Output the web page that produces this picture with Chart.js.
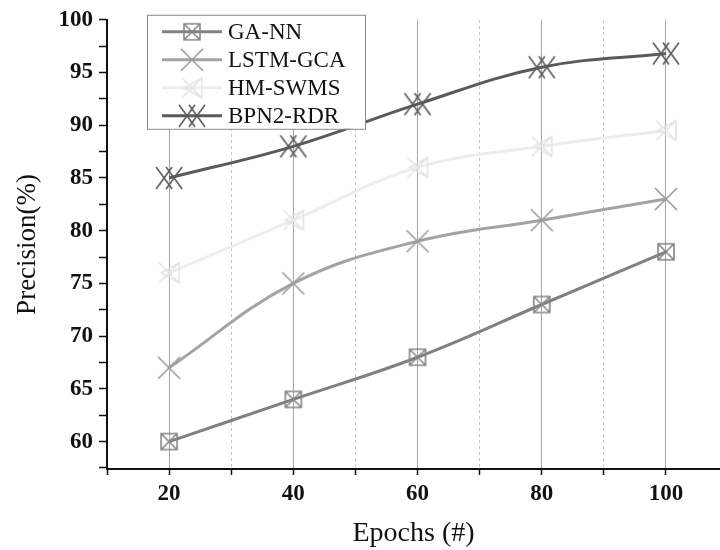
<!DOCTYPE html>
<html>
<head>
<meta charset="utf-8">
<script src="https://cdn.jsdelivr.net/npm/chart.js@4/dist/chart.umd.min.js"></script>
<style>
html,body{margin:0;padding:0;background:#fff;overflow:hidden;}
#c{display:block;}
</style>
</head>
<body>
<canvas id="c" width="720" height="550"></canvas>
<script>
// ---- data ----
const epochs = [20, 40, 60, 80, 100];
const gaNN = [60, 64, 68, 73, 78];
const lstmGCA = [67, 75, 79, 81, 83];
const hmSWMS = [76, 81, 86, 88, 89.5];
const bpn2RDR = [85, 88, 92, 95.5, 96.8];
const seriesNames = ['GA-NN', 'LSTM-GCA', 'HM-SWMS', 'BPN2-RDR'];
const xLabelTicks = [20, 40, 60, 80, 100];
const yLabelTicks = [60, 65, 70, 75, 80, 85, 90, 95, 100];

const SERIF = '"Liberation Serif", "Times New Roman", serif';

function makeMarker(kind, color) {
  const c = document.createElement('canvas');
  c.width = 30; c.height = 30;
  const g = c.getContext('2d');
  g.strokeStyle = color;
  g.lineWidth = 1.6;
  g.beginPath();
  if (kind === 'boxX') {
    g.rect(7, 7, 16, 16);
    g.moveTo(7, 7); g.lineTo(23, 23);
    g.moveTo(23, 7); g.lineTo(7, 23);
  } else if (kind === 'x') {
    g.moveTo(4, 4); g.lineTo(26, 26);
    g.moveTo(26, 4); g.lineTo(4, 26);
  } else if (kind === 'xTri') {
    g.moveTo(5, 5); g.lineTo(25, 25);
    g.moveTo(25, 5); g.lineTo(5, 25);
    g.moveTo(7, 15); g.lineTo(25, 5); g.lineTo(25, 25); g.closePath();
  } else if (kind === 'xx') {
    g.moveTo(2, 4); g.lineTo(18, 26);
    g.moveTo(18, 4); g.lineTo(2, 26);
    g.moveTo(12, 4); g.lineTo(28, 26);
    g.moveTo(28, 4); g.lineTo(12, 26);
  }
  g.stroke();
  return c;
}

const styles = [
  {line: '#808080', marker: makeMarker('boxX', '#858585')},
  {line: '#a3a3a3', marker: makeMarker('x', '#9a9a9a')},
  {line: '#ededed', marker: makeMarker('xTri', '#e4e4e4')},
  {line: '#5a5a5a', marker: makeMarker('xx', '#5a5a5a')}
];

const seriesValues = [gaNN, lstmGCA, hmSWMS, bpn2RDR];

const datasets = seriesValues.map((vals, i) => ({
  label: seriesNames[i],
  data: epochs.map((e, j) => ({x: e, y: vals[j]})),
  borderColor: styles[i].line,
  backgroundColor: styles[i].line,
  borderWidth: 3,
  tension: 0.4,
  pointStyle: styles[i].marker,
  pointRadius: 6,
  fill: false,
  clip: false,
  order: 4 - i
}));

const boxedLegend = {
  id: 'boxedLegend',
  afterDraw(chart) {
    const ctx = chart.ctx;
    const a = chart.chartArea;
    const left = a.left + 40, top = a.top - 5, w = 218, h = 114;
    ctx.save();
    ctx.fillStyle = '#fff';
    ctx.fillRect(left, top, w, h);
    ctx.strokeStyle = '#8a8a8a';
    ctx.lineWidth = 1;
    ctx.strokeRect(left + 0.5, top + 0.5, w, h);
    ctx.font = '23px ' + SERIF;
    ctx.textBaseline = 'middle';
    ctx.fillStyle = '#111';
    chart.data.datasets.forEach((ds, i) => {
      const y = top + 17 + i * 28;
      ctx.strokeStyle = ds.borderColor;
      ctx.lineWidth = 3;
      ctx.beginPath();
      ctx.moveTo(left + 15, y);
      ctx.lineTo(left + 75, y);
      ctx.stroke();
      const m = ds.pointStyle;
      ctx.drawImage(m, left + 45 - m.width / 2, y - m.height / 2);
      ctx.fillText(ds.label, left + 81, y + 1);
    });
    ctx.restore();
  }
};

new Chart(document.getElementById('c'), {
  type: 'line',
  data: {datasets},
  plugins: [boxedLegend],
  options: {
    responsive: false,
    animation: false,
    events: [],
    layout: {autoPadding: false, padding: {top: 17, right: 0, left: 0, bottom: 0}},
    plugins: {legend: {display: false}, tooltip: {enabled: false}},
    scales: {
      x: {
        type: 'linear',
        min: 10, max: 108.7,
        afterFit(s) { s.height = 81; },
        ticks: {
          stepSize: 10,
          includeBounds: false,
          autoSkip: false,
          maxRotation: 0,
          padding: 5,
          color: '#111',
          font: {family: SERIF, size: 23, weight: 'bold'},
          callback: v => xLabelTicks.includes(v) ? String(v) : ''
        },
        grid: {
          drawOnChartArea: true,
          color: c => (c.tick && xLabelTicks.includes(c.tick.value)) ? '#a5a5a5' : 'rgba(0,0,0,0)',
          lineWidth: 1,
          tickColor: '#111',
          tickLength: 6,
          tickWidth: 1.5
        },
        border: {display: true, color: '#111', width: 2},
        title: {
          display: true, text: 'Epochs (#)', color: '#111',
          font: {family: SERIF, size: 28},
          padding: {top: 0, bottom: 0}
        }
      },
      x2: {
        type: 'linear',
        position: 'top',
        min: 10, max: 108.7,
        afterFit(s) { s.height = 0; },
        ticks: {display: false, stepSize: 10, includeBounds: false},
        grid: {
          drawTicks: false,
          color: c => (c.tick && !xLabelTicks.includes(c.tick.value) && c.tick.value > 10) ? '#c4c4c4' : 'rgba(0,0,0,0)',
          lineWidth: 1
        },
        border: {display: false, dash: [3, 3]}
      },
      y: {
        min: 57.4, max: 100,
        afterFit(s) { s.width = 107; },
        ticks: {
          stepSize: 2.5,
          includeBounds: false,
          autoSkip: false,
          padding: 6,
          color: '#111',
          font: {family: SERIF, size: 23, weight: 'bold'},
          callback: v => yLabelTicks.includes(v) ? String(v) : ''
        },
        grid: {
          drawOnChartArea: false,
          tickColor: '#111',
          tickLength: 8,
          tickWidth: 1.5
        },
        border: {display: true, color: '#111', width: 2},
        title: {
          display: true, text: 'Precision(%)', color: '#111',
          font: {family: SERIF, size: 27},
          padding: {top: 12, bottom: 0}
        }
      }
    }
  }
});
</script>
</body>
</html>
